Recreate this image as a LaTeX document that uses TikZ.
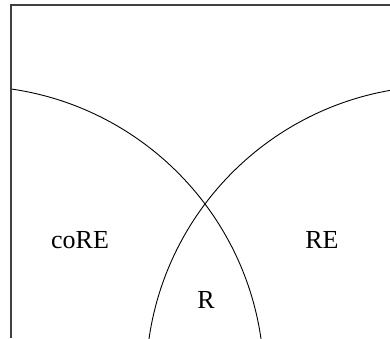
\documentclass[tikz,border=0pt]{standalone}
\usepackage{fontspec}
\setmainfont{Liberation Serif}
\usepackage{tikz}
\tikzset{
  frame/.style={line width=1.6pt, black!75},
  setline/.style={line width=0.9pt, black},
  setlabel/.style={font=\fontsize{26}{30}\selectfont, inner sep=0pt}
}

\begin{document}
\begin{tikzpicture}[x=1pt, y=-1pt]
    \useasboundingbox (0,0) rectangle (390,338);
    \begin{scope}
      \clip (11,5) rectangle (390,338);
      \draw[setline] (-31,381) circle (295);
      \draw[setline] (441,381) circle (295);
    \end{scope}
    \draw[frame] (11,338) -- (11,5) -- (390,5);

    \node[setlabel] (core) at (80,240) {coRE};
    \node[setlabel] (re) at (322,240) {RE};
    \node[setlabel] (rec) at (206,300) {R};
\end{tikzpicture}
\end{document}
